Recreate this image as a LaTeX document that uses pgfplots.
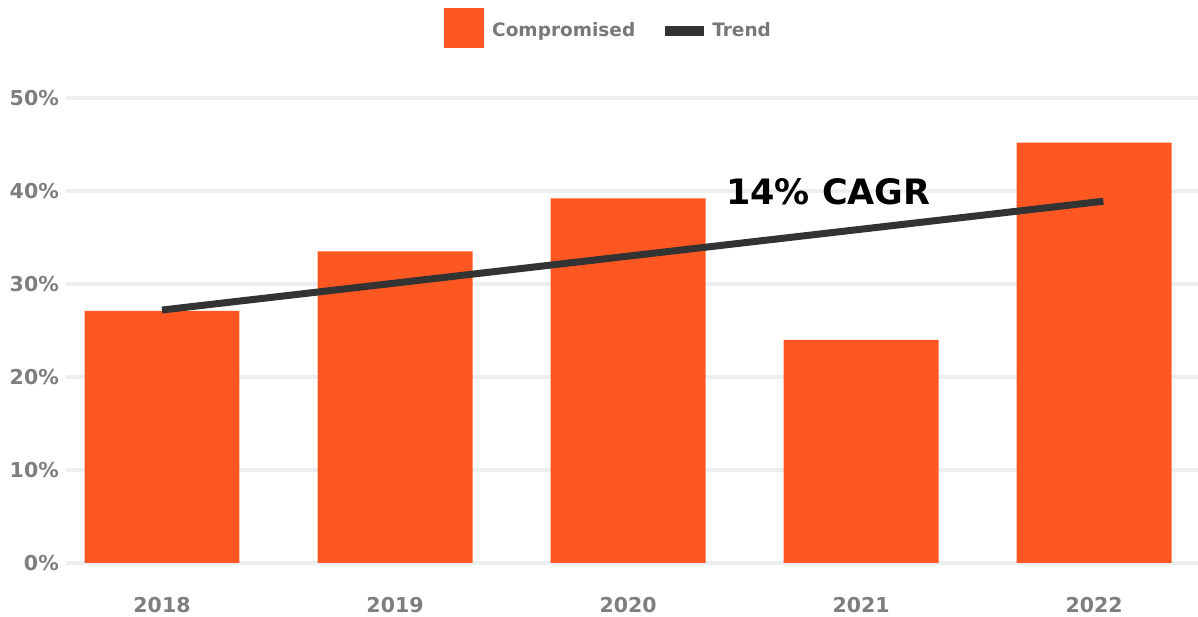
\documentclass[border=0pt]{standalone}
\usepackage{pgfplots}
\pgfplotsset{compat=1.18}
\usepackage{fontspec}
\setmainfont{DejaVu Sans}
\definecolor{barc}{HTML}{FF5722}
\definecolor{trendc}{HTML}{333333}
\definecolor{gridc}{HTML}{ECEFEF}
\definecolor{tickc}{HTML}{7E7E7E}
\definecolor{legc}{HTML}{77787B}
\begin{document}
\begin{tikzpicture}
\begin{axis}[
  at={(66pt,54pt)}, anchor=south west,
  scale only axis, width=1132pt, height=465pt,
  xmin=-0.412, xmax=4.446, ymin=0, ymax=50,
  axis line style={draw=none},
  clip=false,
  xtick={0,1,2,3,4}, xticklabels={2018,2019,2020,2021,2022},
  ytick={0,10,20,30,40,50},
  yticklabel={\pgfmathprintnumber{\tick}\%},
  /pgf/number format/assume math mode=true,
  major tick length=0pt,
  ymajorgrids, grid style={gridc, line width=4pt},
  tick label style={font=\fontsize{20.5}{24}\selectfont\bfseries, text=tickc},
  yticklabel style={anchor=east, inner sep=0pt, xshift=-7pt},
  xticklabel style={anchor=center, inner sep=0pt, yshift=-42pt},
  legend columns=2,
  legend style={draw=none, at={(0.4793,1.1505)}, anchor=center,
    font=\fontsize{18.5}{22}\selectfont\bfseries, text=legc,
    /tikz/every even column/.append style={column sep=28pt}},
]
\addplot[ybar, bar width=0.665, fill=barc, draw=none,
  legend image code/.code={\path[fill=barc, draw=none] (0pt,-17.5pt) rectangle (40pt,22.5pt);
    \path[draw=none] (0pt,0pt) -- (46pt,0pt);}]
  coordinates {(0,27.1) (1,33.5) (2,39.2) (3,24.0) (4,45.2)};
\addlegendentry{Compromised}
\addplot[trendc, line width=7pt,
  legend image code/.code={\path[fill=trendc, draw=none] (0pt,-5pt) rectangle (39pt,5pt);
    \path[draw=none] (0pt,-1pt) rectangle (45pt,1pt);}]
  coordinates {(0,27.2) (4.04,38.9)};
\addlegendentry{Trend}
\node[font=\fontsize{35}{40}\selectfont\bfseries, text=black] at (axis cs:2.86,39.95) {14\% CAGR};
\end{axis}
\pgfresetboundingbox
\path[use as bounding box] (0,0) rectangle (1198pt,617pt);
\end{tikzpicture}
\end{document}
